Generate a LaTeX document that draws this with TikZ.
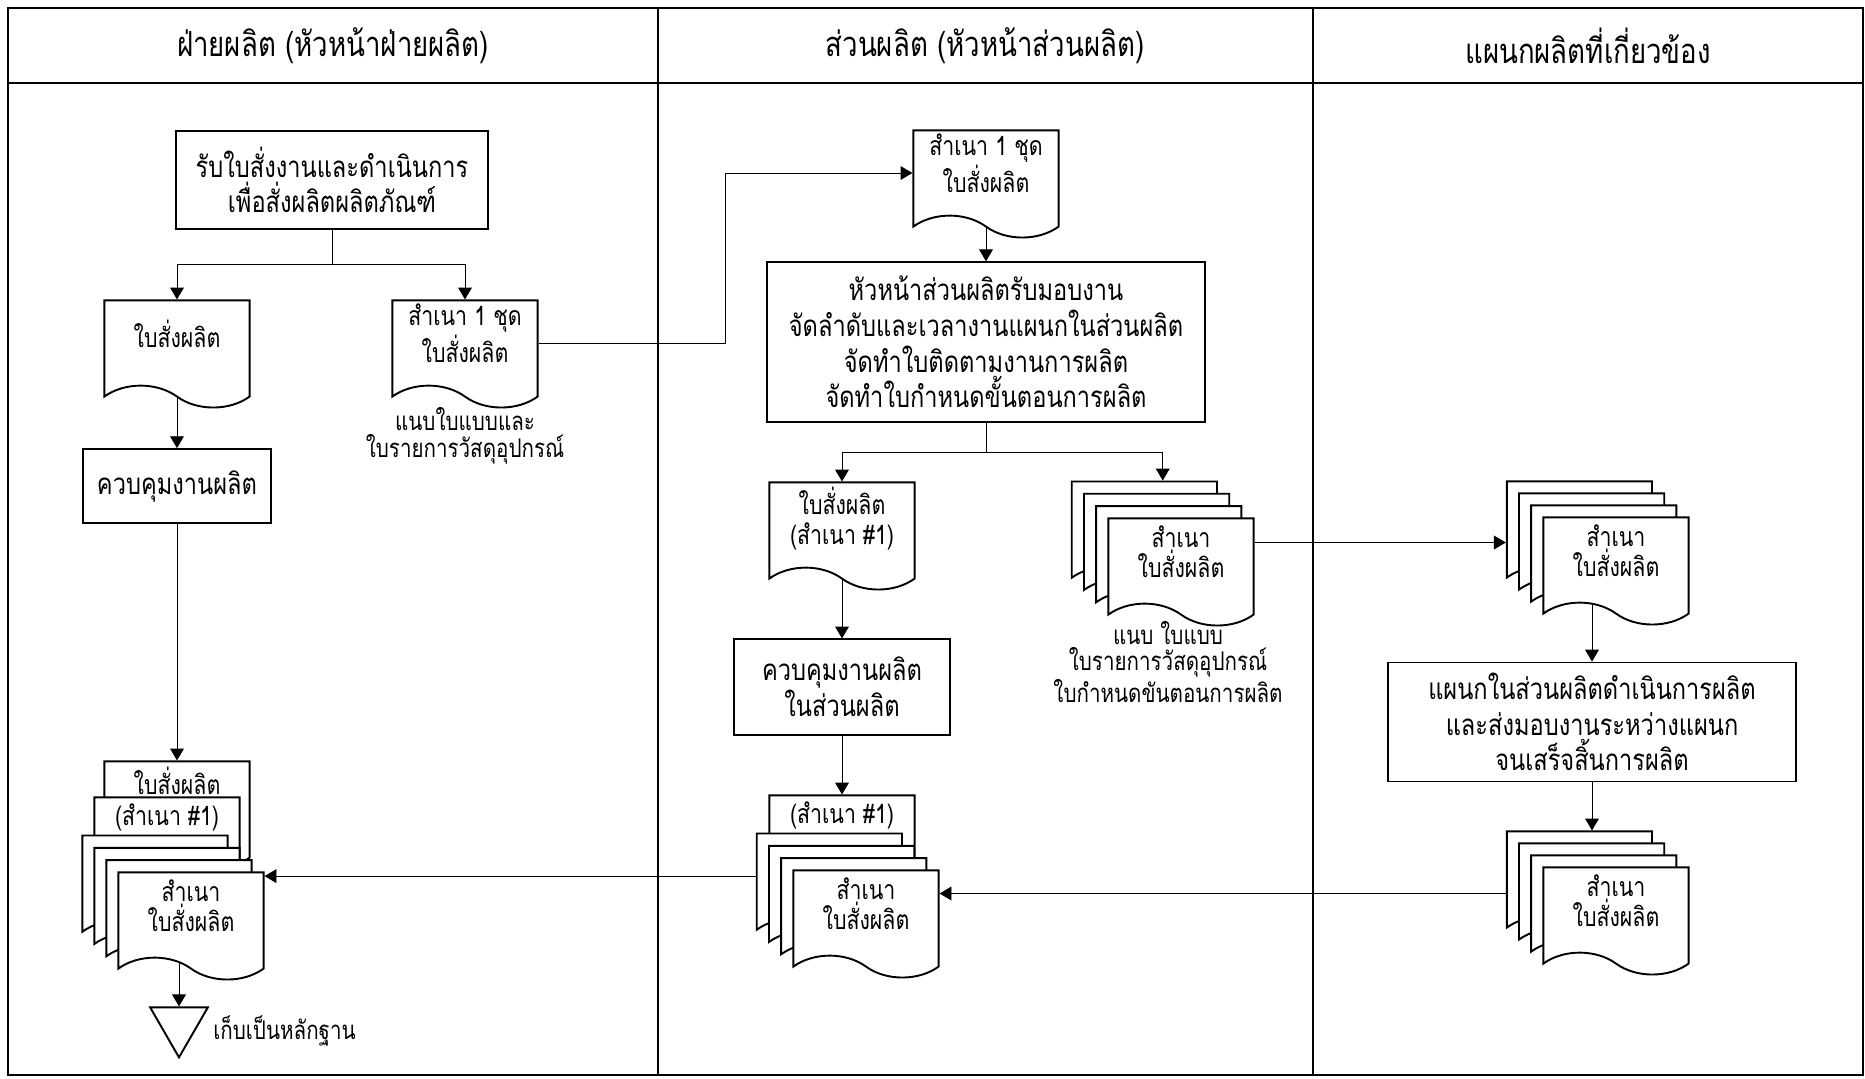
\documentclass[tikz,border=0pt]{standalone}
\usepackage{fontspec}
\setmainfont[Script=Thai,FakeStretch=0.8]{Loma}
\usetikzlibrary{positioning,calc,shapes.symbols,shapes.geometric,arrows.meta,backgrounds}

\begin{document}
\begin{tikzpicture}[x=0.42pt,y=-0.42pt,line width=0.8pt,>={Triangle[length=5pt,width=5.8pt]},
    lanehead/.style={font=\fontsize{14.5}{17}\selectfont},
    procbox/.style={draw,rectangle,align=center,inner sep=2pt,font=\fontsize{12.4}{15}\selectfont},
    docsheet/.style={draw,fill=white,tape,tape bend top=none,tape bend bottom=out and in,tape bend height=9.2pt,
      minimum width=61pt,minimum height=45pt,inner sep=1pt,text depth=8pt,align=center,font=\fontsize{11.2}{12.6}\selectfont},
    stacktxt/.style={anchor=north,inner sep=2.5pt,font=\fontsize{11.2}{12}\selectfont},
    annot/.style={align=center,inner sep=1pt,font=\fontsize{10.8}{11.2}\selectfont}]
  \useasboundingbox (0,0) rectangle (1865,1078);
  \draw[line width=1.1pt] (8,8) rectangle (1863,1075);
  \draw[line width=1.1pt] (8,83) -- (1863,83);
  \foreach \x in {658,1313}
    \draw[line width=1.1pt] (\x,8) -- (\x,1075);

  \node[lanehead] (hd1) at (333,46) {ฝ่ายผลิต (หัวหน้าฝ่ายผลิต)};
  \node[lanehead] (hd2) at (985,46) {ส่วนผลิต (หัวหน้าส่วนผลิต)};
  \node[lanehead] (hd3) at (1588,46) {แผนกผลิตที่เกี่ยวข้อง};

  % ฝ่ายผลิต
  \node[procbox,minimum width=131pt,minimum height=41pt] (recv) at (332,180) {รับใบสั่งงานและดำเนินการ\\เพื่อสั่งผลิตผลิตภัณฑ์};
  \node[docsheet] (order) at (177,343) {ใบสั่งผลิต};
  \node[docsheet] (copy1) at (465,343) {สำเนา 1 ชุด\\ใบสั่งผลิต};
  \node[annot] (attach1) at (465,436) {แนบใบแบบและ\\ใบรายการวัสดุอุปกรณ์};
  \node[procbox,minimum width=79pt,minimum height=31pt] (ctrl1) at (177,486) {ควบคุมงานผลิต};
  \node[docsheet,label={[stacktxt]north:ใบสั่งผลิต}] (arch-a) at (177,804) {};
  \node[docsheet,label={[stacktxt]north:(สำเนา \#1)}] (arch-b) at (167,840) {};
  \foreach \k in {3,2,1}
    \node[docsheet] (arch-\k) at ($(191,915)+(-\k*12,-\k*12.3)$) {};
  \node[docsheet] (arch) at (191,915) {สำเนา\\ใบสั่งผลิต};
  \node[regular polygon,regular polygon sides=3,shape border rotate=180,draw,minimum size=28pt,inner sep=0pt] (keep) at (179,1024) {};
  \node[annot,right=4.5pt of keep,yshift=-3pt] (keeptxt) {เก็บเป็นหลักฐาน};

  % ส่วนผลิต
  \node[docsheet] (copy2) at (986,173) {สำเนา 1 ชุด\\ใบสั่งผลิต};
  \node[procbox,minimum width=184pt,minimum height=67pt] (plan) at (986,342) {หัวหน้าส่วนผลิตรับมอบงาน\\จัดลำดับและเวลางานแผนกในส่วนผลิต\\จัดทำใบติดตามงานการผลิต\\จัดทำใบกำหนดขั้นตอนการผลิต};
  \node[docsheet] (copy3) at (842,525) {ใบสั่งผลิต\\(สำเนา \#1)};
  \node[procbox,minimum width=91pt,minimum height=40pt] (ctrl2) at (842,687) {ควบคุมงานผลิต\\ในส่วนผลิต};
  \foreach \k in {3,2,1}
    \node[docsheet] (sets-\k) at ($(1181,561)+(-\k*12.2,-\k*12.3)$) {};
  \node[docsheet] (sets) at (1181,561) {สำเนา\\ใบสั่งผลิต};
  \node[annot] (attach2) at (1168,662) {แนบ ใบแบบ\\ใบรายการวัสดุอุปกรณ์\\ใบกำหนดขันตอนการผลิต};
  \node[docsheet,label={[stacktxt]north:(สำเนา \#1)}] (ret-a) at (842,838) {};
  \foreach \k in {3,2,1}
    \node[docsheet] (ret-\k) at ($(866,913)+(-\k*12.2,-\k*12.3)$) {};
  \node[docsheet] (ret) at (866,913) {สำเนา\\ใบสั่งผลิต};

  % แผนกผลิต
  \foreach \k in {3,2,1}
    \node[docsheet] (dept-\k) at ($(1616,560)+(-\k*12.2,-\k*12)$) {};
  \node[docsheet] (dept) at (1616,560) {สำเนา\\ใบสั่งผลิต};
  \node[procbox,minimum width=171pt,minimum height=50pt] (make) at (1592,722) {แผนกในส่วนผลิตดำเนินการผลิต\\และส่งมอบงานระหว่างแผนก\\จนเสร็จสิ้นการผลิต};
  \foreach \k in {3,2,1}
    \node[docsheet] (done-\k) at ($(1616,910)+(-\k*12.2,-\k*12)$) {};
  \node[docsheet] (done) at (1616,910) {สำเนา\\ใบสั่งผลิต};

  \begin{scope}[on background layer]
    \draw (recv.south) -- ++(0,35) coordinate (fork1);
    \draw[->] (fork1) -| (order.north);
    \draw[->] (fork1) -| (copy1.north);
    \draw[->] (order.center) -- (ctrl1.north);
    \draw[->] (ctrl1.south) -- (arch-a.north);
    \draw[->] (arch.center -| keep.north) -- (keep.north);
    \draw[->] (copy1.east) -| ($(copy1.east)!.5!(copy2.west)$) |- (copy2.west);
    \draw[->] (copy2.center) -- (plan.north);
    \draw (plan.south) -- ++(0,30) coordinate (fork2);
    \draw[->] (fork2) -| (copy3.north);
    \draw[->] (fork2) -| ([xshift=7.7pt]sets-3.north);
    \draw[->] (copy3.center) -- (ctrl2.north);
    \draw[->] (ctrl2.south) -- (ret-a.north);
    \path ($(sets.east)!.5!(dept-3.west)$) coordinate (mid23);
    \draw[->] (sets.east |- mid23) -- (dept-3.west |- mid23);
    \draw[->] (dept.center -| make.north) -- (make.north);
    \draw[->] (make.south) -- (make.south |- done-3.north);
    \path ($(done-3.west)!.5!(ret.east)$) coordinate (mid32);
    \draw[->] (done-3.west |- mid32) -- (ret.east |- mid32);
    \draw[->] (ret-3.west) -- (ret-3.west -| arch.east);
  \end{scope}
\end{tikzpicture}
\end{document}
